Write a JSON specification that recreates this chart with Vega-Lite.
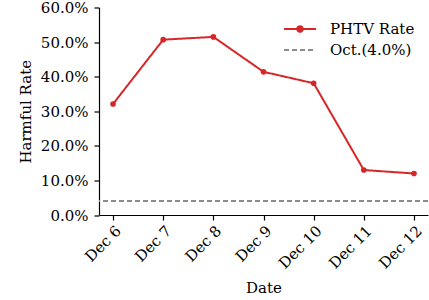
{
  "$schema": "https://vega.github.io/schema/vega-lite/v6.json",
  "width": 329,
  "height": 207.5,
  "autosize": "none",
  "padding": {"left": 99, "top": 7.5, "right": 1, "bottom": 85},
  "background": "white",
  "config": {
    "font": "DejaVu Serif",
    "view": {"stroke": null},
    "axis": {
      "labelFont": "DejaVu Serif", "titleFont": "DejaVu Serif",
      "labelFontSize": 15, "titleFontSize": 15,
      "labelColor": "#000", "titleColor": "#000",
      "titleFontWeight": "normal",
      "domainColor": "#000", "tickColor": "#000", "domainWidth": 1.2, "tickWidth": 1.2,
      "tickSize": 5, "grid": false
    },
    "legend": {"labelFont": "DejaVu Serif", "labelFontSize": 15, "labelColor": "#000"}
  },
  "data": {"values": [
    {"date": "Dec 6", "rate": 0.321, "series": "PHTV Rate"},
    {"date": "Dec 7", "rate": 0.507, "series": "PHTV Rate"},
    {"date": "Dec 8", "rate": 0.515, "series": "PHTV Rate"},
    {"date": "Dec 9", "rate": 0.414, "series": "PHTV Rate"},
    {"date": "Dec 10", "rate": 0.381, "series": "PHTV Rate"},
    {"date": "Dec 11", "rate": 0.130, "series": "PHTV Rate"},
    {"date": "Dec 12", "rate": 0.120, "series": "PHTV Rate"}
  ]},
  "layer": [
    {
      "mark": {"type": "rule", "strokeWidth": 1.3},
      "encoding": {
        "y": {"datum": 0.04, "type": "quantitative",
              "axis": {"title": "Harmful Rate", "format": ".1%", "values": [0, 0.1, 0.2, 0.3, 0.4, 0.5, 0.6], "tickCount": 7, "titlePadding": 7, "labelPadding": 6, "labelOverlap": false, "labelFlush": false}},
        "color": {"datum": "Oct.(4.0%)"},
        "strokeDash": {"datum": "Oct.(4.0%)"}
      }
    },
    {
      "mark": {"type": "line", "strokeWidth": 2, "point": {"filled": true, "size": 32}},
      "encoding": {
        "x": {"field": "date", "type": "ordinal", "sort": null,
              "scale": {"type": "point", "padding": 0.28},
              "axis": {"title": "Date", "labelAngle": -45, "titlePadding": 9, "labelPadding": 3, "labelOverlap": false}},
        "y": {"field": "rate", "type": "quantitative",
              "scale": {"domain": [0, 0.6], "nice": false, "zero": true},
              "axis": {"title": "Harmful Rate", "format": ".1%", "values": [0, 0.1, 0.2, 0.3, 0.4, 0.5, 0.6], "tickCount": 7, "titlePadding": 7, "labelPadding": 6, "labelOverlap": false, "labelFlush": false}},
        "color": {"field": "series", "type": "nominal",
                  "scale": {"domain": ["PHTV Rate", "Oct.(4.0%)"], "range": ["#d62728", "#8c8c8c"]},
                  "legend": {"title": null, "orient": "none", "legendX": 190, "legendY": 10.5,
                             "symbolSize": 400, "symbolStrokeWidth": 2, "rowPadding": 2, "labelOffset": 19,
                             "encode": {"symbols": {"update": {
                               "shape": {"signal": "datum.value === 'PHTV Rate' ? 'M-1.6,0L1.6,0M0.28,0A0.28,0.28,0,1,1,-0.28,0A0.28,0.28,0,1,1,0.28,0Z' : 'M-1.6,0L1.6,0'"},
                               "fill": {"signal": "datum.value === 'PHTV Rate' ? '#d62728' : 'transparent'"}
                             }}}}},
        "strokeDash": {"field": "series", "type": "nominal",
                       "scale": {"domain": ["PHTV Rate", "Oct.(4.0%)"], "range": [[1, 0], [5, 3]]}}
      }
    }
  ]
}
